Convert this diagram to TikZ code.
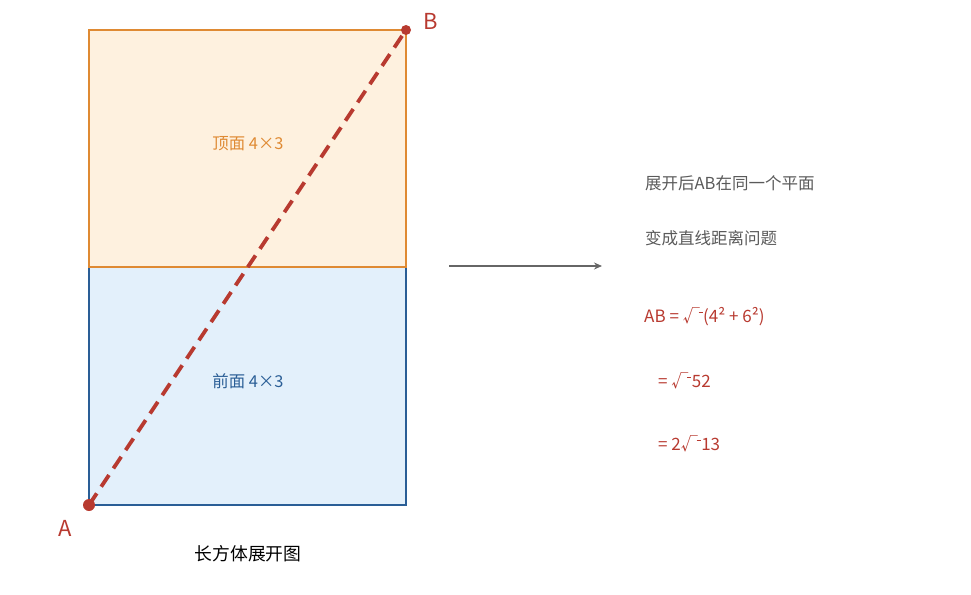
\documentclass[tikz,border=0pt]{standalone}
\usepackage{fontspec}
\setmainfont{Noto Sans CJK SC}
\usetikzlibrary{arrows.meta}
\begin{document}
\begin{tikzpicture}[x=1pt,y=-1pt,
  face/.style={draw, line width=2.4pt, minimum width=317pt, minimum height=237.5pt, inner sep=0pt},
  lbl/.style={font=\fontsize{16.4}{19}\selectfont},
  note/.style={font=\fontsize{16.5}{19}\selectfont, text=notegray, anchor=west, inner sep=0pt},
  formula/.style={font=\fontsize{17}{20}\selectfont, text=redc, anchor=west, inner sep=0pt},
  pt/.style={circle, fill=redc, inner sep=0pt, minimum size=12pt}]
\definecolor{orangec}{HTML}{DF8A33}
\definecolor{orangefill}{HTML}{FEF1DF}
\definecolor{bluec}{HTML}{2A5E96}
\definecolor{bluefill}{HTML}{E3F0FB}
\definecolor{redc}{HTML}{B83A30}
\definecolor{notegray}{HTML}{5A5A5A}
\definecolor{arrowgray}{HTML}{666666}
\useasboundingbox (0,0) rectangle (971,594);
\node[face, draw=bluec, fill=bluefill] (front) at (247.5,386) {};
\node[face, draw=orangec, fill=orangefill] (top) at (247.5,148.5) {};
\node[lbl, text=orangec] (toplbl) at (248,144) {顶面 4×3};
\node[lbl, text=bluec] (frontlbl) at (248,381) {前面 4×3};
\node[font=\fontsize{17.8}{21}\selectfont] (cap) at (248,554) {长方体展开图};
\coordinate (A) at (89,505);
\coordinate (B) at (406,30);
\draw[redc, line width=3.8pt, dash pattern=on 14pt off 8pt] (A) -- (B);
\node[pt] (Adot) at (A) {};
\node[pt, minimum size=10pt] (Bdot) at (B) {};
\node[font=\fontsize{22}{26}\selectfont, text=redc] (Alab) at (65,528) {A};
\node[font=\fontsize{22}{26}\selectfont, text=redc] (Blab) at (431,21) {B};
\coordinate (arrS) at (449,266);
\coordinate (arrE) at (602,266);
\draw[arrowgray, line width=1.6pt, -{Stealth[length=8pt,width=7pt]}] (arrS) -- (arrE);
\node[note] (n1) at (645,183) {展开后AB在同一个平面};
\node[note] (n2) at (645,238) {变成直线距离问题};
\newcommand{\myroot}{√\kern-1.2pt\raisebox{0.62em}{\rule{4pt}{0.7pt}}\kern0.6pt}
\node[formula] (f1) at (644,317) {AB = \myroot(4² + 6²)};
\node[formula] (f2) at (658,381) {= \myroot 52};
\node[formula] (f3) at (658,444) {= 2\myroot 13};
\end{tikzpicture}
\end{document}
